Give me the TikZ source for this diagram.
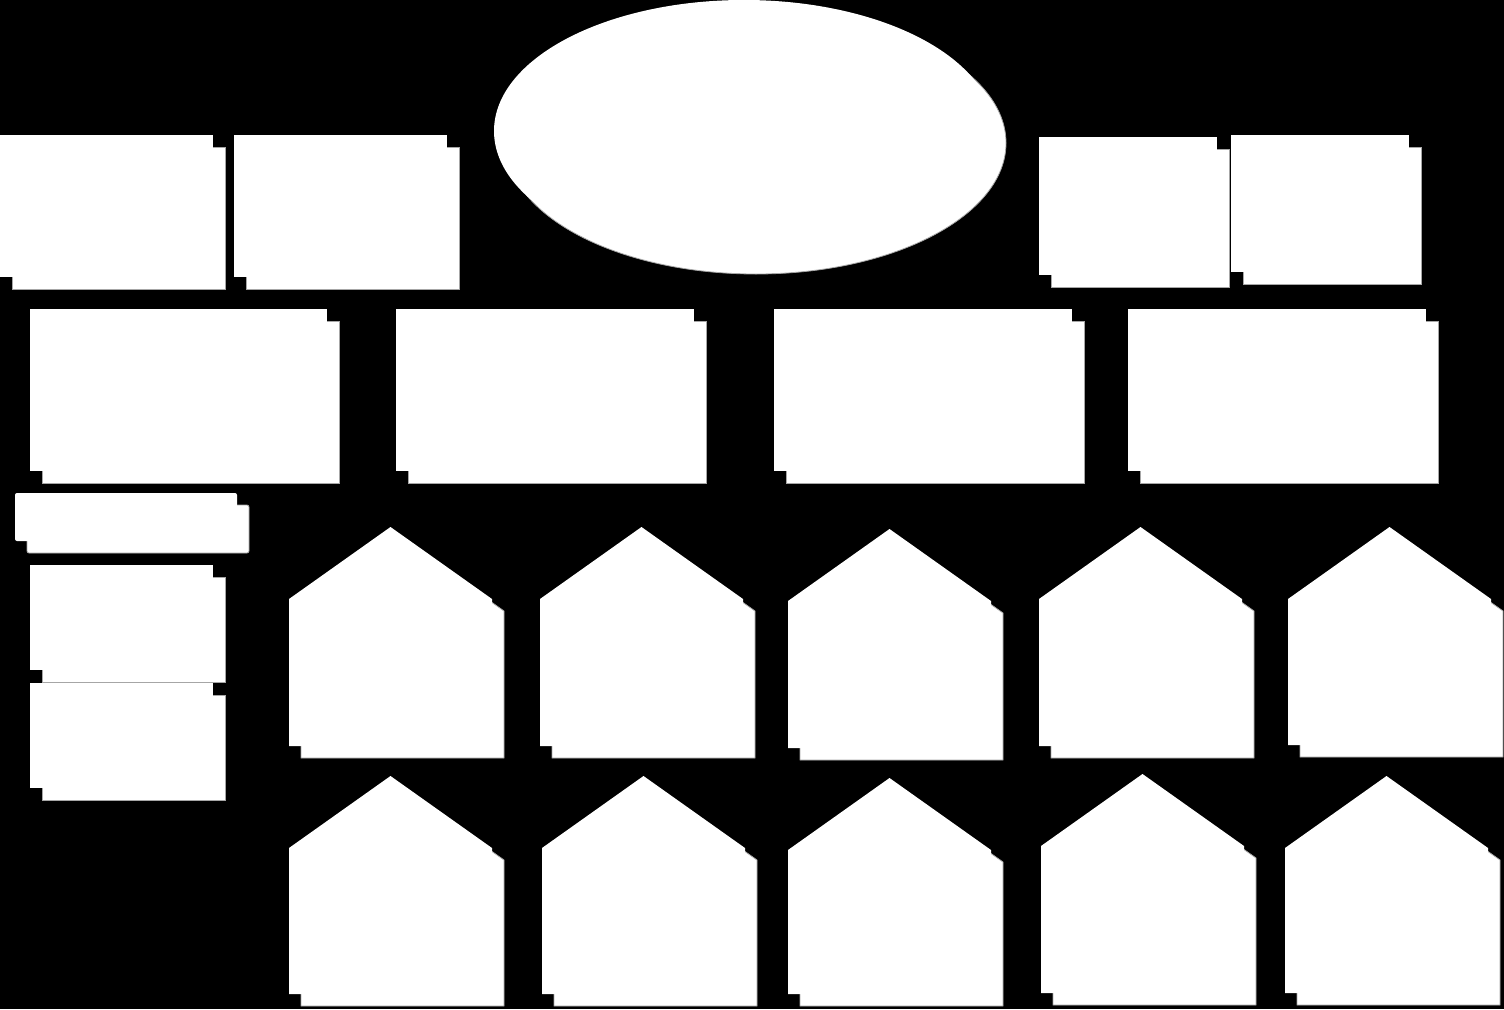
\documentclass[tikz,border=0pt]{standalone}
\usepackage{tikz}
\usetikzlibrary{shapes.geometric,shadows}

\begin{document}
\begin{tikzpicture}[x=1pt,y=-1pt,
  sh/.style={drop shadow={shadow xshift=12pt,shadow yshift=-12pt,fill=white,draw=gray!70,line width=0.8pt,opacity=1}},
  card/.style={rectangle,fill=white,sh,inner sep=0,outer sep=0,anchor=north west},
  tagbox/.style={card,rounded corners=2pt},
  oval/.style={ellipse,fill=white,sh,inner sep=0,minimum width=500pt,minimum height=262pt},
  house/.style={fill=white,sh}]
 \fill[black] (0,0) rectangle (1504,1009);
 \useasboundingbox (0,0) rectangle (1504,1009);

 % top row
 \node[oval] (core) at (744,131) {};
 \node[card,minimum width=213pt,minimum height=142pt] (bx_1) at (0,135) {};
 \node[card,minimum width=213pt,minimum height=142pt] (bx_2) at (234,135) {};
 \node[card,minimum width=178pt,minimum height=138pt] (bx_3) at (1039,137) {};
 \node[card,minimum width=178pt,minimum height=137pt] (bx_4) at (1231,135) {};

 % wide boxes
 \node[card,minimum width=297pt,minimum height=162pt] (bw_1) at (30,309) {};
 \node[card,minimum width=298pt,minimum height=162pt] (bw_2) at (396,309) {};
 \node[card,minimum width=298pt,minimum height=162pt] (bw_3) at (774,309) {};
 \node[card,minimum width=298pt,minimum height=162pt] (bw_4) at (1128,309) {};

 % left column
 \node[tagbox,minimum width=222pt,minimum height=48pt] (tag) at (15,493) {};
 \node[card,minimum width=183pt,minimum height=105pt] (sd_1) at (30,565) {};
 \node[card,minimum width=183pt,minimum height=105pt] (sd_2) at (30,683) {};

 % houses
 \foreach \hx/\ht/\hb in {289/527/746,540/527/746,788/529/748,1039/527/746,1288/527/745,
   289/776/994,542/776/994,788/778/994,1041/774/993,1285/776/993}
   \path[house] (\hx,\hb) -- (\hx,\ht+72) -- (\hx+101.5,\ht) -- (\hx+203,\ht+72) -- (\hx+203,\hb) -- cycle;
\end{tikzpicture}
\end{document}
